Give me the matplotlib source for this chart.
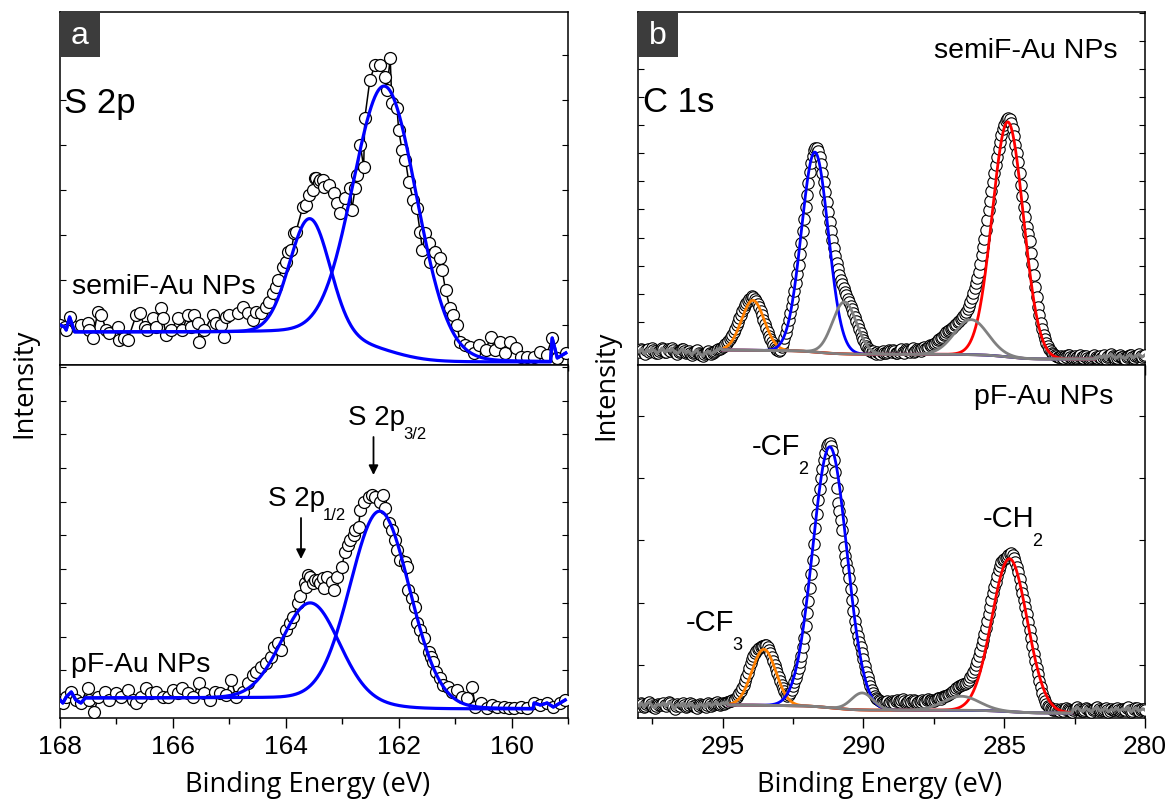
import numpy as np
import matplotlib
matplotlib.use("Agg")
import matplotlib.pyplot as plt
from matplotlib.ticker import MultipleLocator, NullFormatter
from matplotlib.patches import Rectangle

plt.rcParams['font.family'] = ['Liberation Sans', 'DejaVu Sans']

# ---------------- S 2p, semiF-Au NPs : binding energy (eV) / intensity (a.u.)
s2p_semiF_be = [168.00, 167.92, 167.89, 167.83, 167.63, 167.51, 167.48, 167.42, 167.33, 167.27,
                167.18, 167.13, 166.98, 166.95, 166.86, 166.80, 166.65, 166.59, 166.50, 166.45,
                166.36, 166.30, 166.21, 166.18, 166.12, 166.03, 165.91, 165.83, 165.74, 165.68,
                165.62, 165.56, 165.53, 165.44, 165.29, 165.23, 165.15, 165.09, 165.06, 165.00,
                164.85, 164.76, 164.67, 164.58, 164.52, 164.44, 164.35, 164.29, 164.23, 164.17,
                164.14, 164.05, 163.99, 163.96, 163.90, 163.85, 163.82, 163.70, 163.64, 163.58,
                163.52, 163.48, 163.46, 163.42, 163.40, 163.34, 163.33, 163.24, 163.15, 163.09,
                163.04, 162.95, 162.86, 162.83, 162.77, 162.74, 162.68, 162.62, 162.60, 162.51,
                162.42, 162.33, 162.24, 162.21, 162.15, 162.12, 162.03, 162.00, 161.94, 161.88,
                161.82, 161.74, 161.68, 161.62, 161.58, 161.53, 161.47, 161.44, 161.35, 161.26,
                161.23, 161.17, 161.09, 161.03, 160.97, 160.91, 160.82, 160.73, 160.67, 160.58,
                160.46, 160.37, 160.29, 160.20, 160.11, 160.02, 159.93, 159.84, 159.72, 159.60,
                159.49, 159.38, 159.28, 159.19, 159.04]
s2p_semiF_int = [40, 38, 35, 48, 40, 42, 35, 27, 53, 50,
                 35, 32, 38, 25, 27, 25, 50, 52, 38, 35,
                 47, 38, 57, 47, 30, 35, 47, 35, 50, 38,
                 50, 42, 23, 35, 50, 42, 40, 28, 48, 50,
                 52, 58, 52, 45, 53, 52, 58, 63, 72, 78,
                 85, 98, 103, 113, 115, 132, 133, 158, 160, 170,
                 175, 187, 187, 183, 185, 185, 178, 180, 172, 162,
                 152, 167, 177, 155, 177, 190, 220, 198, 247, 285,
                 300, 300, 288, 275, 307, 262, 257, 235, 215, 205,
                 183, 165, 157, 133, 115, 132, 122, 103, 113, 107,
                 95, 75, 57, 50, 40, 23, 20, 18, 12, 20,
                 15, 28, 15, 23, 12, 23, 17, 8, 8, 8,
                 13, 10, 27, 7, 12]

# ---------------- S 2p, pF-Au NPs
s2p_pF_be = [168.00, 167.95, 167.89, 167.80, 167.72, 167.63, 167.51, 167.48, 167.39, 167.33,
             167.21, 167.13, 167.01, 166.92, 166.80, 166.71, 166.65, 166.56, 166.48, 166.39,
             166.30, 166.18, 166.09, 166.00, 165.91, 165.83, 165.74, 165.65, 165.53, 165.44,
             165.35, 165.26, 165.17, 165.06, 164.97, 164.88, 164.76, 164.67, 164.58, 164.52,
             164.44, 164.35, 164.26, 164.20, 164.14, 164.08, 163.99, 163.93, 163.87, 163.79,
             163.74, 163.66, 163.64, 163.61, 163.57, 163.52, 163.48, 163.43, 163.39, 163.34,
             163.33, 163.27, 163.18, 163.15, 163.09, 163.01, 162.95, 162.89, 162.86, 162.80,
             162.77, 162.71, 162.68, 162.62, 162.53, 162.47, 162.42, 162.33, 162.27, 162.24,
             162.18, 162.12, 162.06, 162.03, 161.97, 161.89, 161.86, 161.83, 161.77, 161.71,
             161.68, 161.62, 161.56, 161.47, 161.42, 161.39, 161.33, 161.27, 161.21, 161.12,
             161.06, 160.97, 160.88, 160.79, 160.70, 160.64, 160.55, 160.43, 160.35, 160.26,
             160.14, 160.05, 159.96, 159.84, 159.72, 159.60, 159.49, 159.37, 159.26, 159.14,
             159.05]
s2p_pF_int = [18, 15, 21, 26, 18, 15, 30, 18, 6, 21,
              26, 18, 25, 21, 28, 18, 15, 21, 30, 25,
              26, 21, 21, 28, 25, 30, 25, 21, 35, 25,
              18, 26, 25, 23, 38, 21, 26, 35, 43, 46,
              51, 55, 61, 71, 75, 68, 88, 95, 101, 115,
              122, 135, 131, 143, 141, 135, 138, 138, 135, 140,
              130, 141, 136, 128, 141, 151, 166, 173, 178, 183,
              188, 191, 208, 216, 221, 223, 221, 216, 223, 210,
              195, 188, 178, 168, 158, 156, 151, 128, 120, 111,
              95, 88, 80, 66, 61, 56, 46, 40, 33, 31,
              26, 28, 21, 20, 31, 11, 15, 10, 13, 11,
              11, 10, 10, 11, 10, 15, 13, 15, 11, 15,
              18]

# S 2p fit components (p1/2, p3/2): centre (eV), height (a.u.), FWHM (eV)
s2p_semiF_centers = [163.57, 162.24]
s2p_semiF_heights = [117, 264]
s2p_semiF_fwhm = [0.85, 1.33]
s2p_semiF_bg = [33, 3]           # background level high-BE side / low-BE side
s2p_semiF_range = [167.74, 159.31]

s2p_pF_centers = [163.56, 162.33]
s2p_pF_heights = [97, 194]
s2p_pF_fwhm = [1.20, 1.25]
s2p_pF_bg = [20, 9]
s2p_pF_range = [167.55, 159.62]

# ---------------- C 1s, 0.05 eV steps from 298.00 to 280.00 eV (one row = 1 eV)
c1s_be = np.round(np.linspace(298.0, 280.0, 361), 2)
c1s_semiF_int = [
    14, 13, 16, 15, 12, 11, 15, 16, 13, 14, 17, 15, 14, 12, 12, 14, 15, 17, 16, 13,
    13, 16, 15, 14, 17, 15, 13, 12, 11, 13, 14, 16, 16, 14, 12, 13, 14, 12, 10, 12,
    13, 14, 15, 12, 11, 10, 9, 11, 12, 13, 14, 12, 11, 12, 13, 14, 15, 16, 16, 17,
    18, 19, 21, 22, 24, 26, 28, 30, 33, 36, 40, 43, 47, 50, 54, 57, 60, 62, 64, 66,
    67, 69, 68, 66, 64, 61, 58, 54, 50, 45, 41, 37, 33, 29, 26, 23, 20, 18, 16, 15,
    14, 15, 18, 22, 27, 32, 38, 45, 52, 59, 66, 74, 82, 91, 100, 111, 122, 134, 146, 158,
    170, 182, 193, 202, 209, 215, 217, 217, 214, 208, 201, 192, 183, 173, 163, 153, 143, 134, 125, 117,
    109, 102, 96, 90, 85, 81, 77, 73, 70, 66, 63, 59, 56, 52, 48, 44, 40, 36, 32, 28,
    25, 22, 19, 17, 15, 14, 13, 14, 12, 11, 13, 12, 11, 13, 14, 12, 12, 13, 15, 14,
    13, 15, 14, 12, 12, 13, 15, 16, 13, 12, 16, 15, 14, 13, 15, 17, 13, 14, 16, 15,
    15, 14, 17, 18, 16, 17, 18, 20, 19, 20, 21, 22, 23, 25, 26, 27, 28, 30, 31, 33,
    34, 35, 36, 37, 38, 40, 41, 43, 44, 46, 47, 49, 51, 53, 56, 59, 63, 67, 72, 77,
    82, 87, 93, 101, 110, 118, 126, 135, 145, 155, 164, 174, 183, 192, 200, 208, 216, 223, 230, 236,
    240, 244, 246, 247, 246, 242, 236, 229, 220, 212, 203, 192, 180, 169, 158, 148, 138, 131, 124, 112,
    101, 90, 78, 68, 58, 50, 42, 36, 30, 26, 22, 19, 16, 14, 12, 11, 10, 9, 8, 8,
    9, 8, 7, 9, 8, 10, 10, 8, 7, 8, 9, 7, 8, 9, 10, 8, 7, 9, 9, 7,
    6, 7, 8, 9, 10, 8, 7, 8, 9, 7, 8, 10, 6, 8, 9, 10, 11, 9, 8, 7,
    7, 9, 10, 8, 8, 7, 6, 8, 9, 10, 10, 8, 7, 9, 9, 10, 11, 9, 8, 9,
    10]
c1s_pF_int = [
    13, 12, 15, 14, 11, 12, 14, 15, 16, 14, 12, 11, 10, 12, 14, 13, 13, 14, 15, 13,
    12, 14, 16, 15, 13, 11, 9, 12, 14, 13, 12, 14, 15, 13, 11, 12, 13, 15, 14, 12,
    12, 11, 10, 12, 14, 13, 13, 12, 11, 13, 15, 14, 12, 13, 14, 15, 16, 14, 13, 14,
    15, 14, 15, 16, 16, 17, 17, 18, 18, 19, 21, 23, 25, 27, 30, 33, 37, 41, 45, 50,
    55, 59, 62, 65, 67, 69, 70, 71, 72, 72, 73, 73, 71, 68, 65, 61, 57, 53, 49, 45,
    41, 37, 33, 30, 27, 24, 22, 23, 25, 28, 32, 36, 40, 45, 50, 56, 62, 71, 80, 92,
    105, 117, 130, 144, 158, 174, 190, 204, 218, 229, 240, 249, 258, 265, 272, 274, 275, 272, 267, 258,
    246, 230, 215, 207, 198, 188, 171, 162, 155, 148, 140, 129, 118, 107, 97, 89, 82, 76, 71, 65,
    59, 52, 46, 41, 36, 32, 28, 25, 22, 20, 19, 18, 17, 16, 16, 15, 16, 17, 15, 16,
    17, 16, 15, 17, 18, 17, 16, 18, 19, 17, 15, 16, 17, 18, 16, 17, 18, 17, 15, 16,
    17, 16, 18, 17, 16, 18, 19, 18, 18, 17, 17, 18, 19, 20, 20, 19, 21, 22, 22, 22,
    23, 24, 25, 26, 27, 28, 30, 31, 32, 33, 33, 34, 34, 35, 36, 38, 41, 43, 46, 49,
    53, 57, 62, 67, 73, 78, 84, 90, 97, 104, 111, 118, 125, 131, 136, 142, 148, 152, 156, 158,
    159, 160, 161, 163, 164, 165, 163, 160, 156, 151, 146, 139, 131, 125, 118, 111, 104, 96, 88, 80,
    72, 64, 57, 50, 44, 37, 31, 25, 20, 17, 14, 12, 11, 10, 9, 8, 8, 9, 8, 7,
    9, 8, 7, 9, 10, 9, 8, 7, 6, 8, 9, 10, 11, 9, 8, 7, 7, 8, 10, 9,
    8, 7, 6, 8, 9, 10, 11, 9, 7, 8, 8, 9, 10, 8, 6, 7, 9, 8, 8, 9,
    10, 8, 7, 8, 9, 9, 8, 10, 11, 8, 6, 7, 9, 10, 10, 8, 7, 8, 9, 9,
    8]

# C 1s components: -CF3 (orange), -CF2 (blue), -CH2 (red), two grey components
c1s_names = ['CF3', 'CF2', 'CH2', 'grey1', 'grey2']
c1s_colors = ['#ff8000', '#0000ff', '#ff0000', '#808080', '#808080']
c1s_semiF_centers = [293.92, 291.72, 284.87, 290.67, 286.17]
c1s_semiF_heights = [50, 200, 235, 52, 35]
c1s_semiF_fwhm = [0.95, 1.12, 1.30, 1.00, 1.40]
c1s_semiF_bg = [15, 6]
c1s_semiF_range = [295.0, 281.8]

c1s_pF_centers = [293.53, 291.19, 284.81, 290.04, 286.52]
c1s_pF_heights = [56, 261, 153, 17, 14]
c1s_pF_fwhm = [1.00, 1.43, 1.48, 0.90, 1.50]
c1s_pF_bg = [13, 5]
c1s_pF_range = [294.8, 282.6]


def peak(x, c, h, w, mix=0.05):
    u = (x - c) / w
    return h * (mix / (1 + 4 * u ** 2) + (1 - mix) * np.exp(-4 * np.log(2) * u ** 2))


def fit_curves(be, inten, centers, heights, fwhm, bg, rng, mix):
    hi, lo = rng
    xg = np.linspace(hi, lo, 800)
    comps = [peak(xg, c, h, w, mix) for c, h, w in zip(centers, heights, fwhm)]
    total = np.sum(comps, axis=0)
    cum = np.cumsum(total[::-1])[::-1]
    back = bg[1] + (bg[0] - bg[1]) * cum / cum[0]
    be = np.asarray(be, float)
    inten = np.asarray(inten, float)
    left = be > hi
    right = be < lo
    return xg, back, comps, (be[left], inten[left]), (be[right], inten[right])


W, H = 1172, 805
fig = plt.figure(figsize=(W / 100, H / 100), dpi=100)


def axes_px(x0, x1, y0, y1):
    return fig.add_axes([x0 / W, 1 - y1 / H, (x1 - x0) / W, (y1 - y0) / H])


LX0, LX1 = 60, 568
RX0, RX1 = 638, 1145
YT, YM, YB = 12, 365, 718

ax_tl = axes_px(LX0, LX1, YT, YM)
ax_bl = axes_px(LX0, LX1, YM, YB)
ax_tr = axes_px(RX0, RX1, YT, YM)
ax_br = axes_px(RX0, RX1, YM, YB)

MS = 8.6
for ax, be, inten in [(ax_tl, s2p_semiF_be, s2p_semiF_int), (ax_bl, s2p_pF_be, s2p_pF_int)]:
    ax.plot(be, inten, '-', color='black', lw=1.1, zorder=2)
    ax.plot(be, inten, 'o', ms=MS, mfc='white', mec='black', mew=0.9, zorder=3)

for ax, be, inten, cen, hei, fw, bg, rng in [
        (ax_tl, s2p_semiF_be, s2p_semiF_int, s2p_semiF_centers, s2p_semiF_heights,
         s2p_semiF_fwhm, s2p_semiF_bg, s2p_semiF_range),
        (ax_bl, s2p_pF_be, s2p_pF_int, s2p_pF_centers, s2p_pF_heights,
         s2p_pF_fwhm, s2p_pF_bg, s2p_pF_range)]:
    xg, back, comps, (lx, ly), (rx, ry) = fit_curves(be, inten, cen, hei, fw, bg, rng, 0.05)
    for comp in comps:
        xs = np.concatenate([lx, xg, rx])
        ys = np.concatenate([ly, back + comp, ry])
        ax.plot(xs, ys, color='#0000ff', lw=2.3, zorder=4)

for ax, inten, cen, hei, fw, bg, rng in [
        (ax_tr, c1s_semiF_int, c1s_semiF_centers, c1s_semiF_heights, c1s_semiF_fwhm,
         c1s_semiF_bg, c1s_semiF_range),
        (ax_br, c1s_pF_int, c1s_pF_centers, c1s_pF_heights, c1s_pF_fwhm,
         c1s_pF_bg, c1s_pF_range)]:
    ax.plot(c1s_be, inten, 'o', ms=8.2, mfc='white', mec='black', mew=0.8, zorder=3)
    xg, back, comps, (lx, ly), (rx, ry) = fit_curves(c1s_be, inten, cen, hei, fw, bg, rng, 0.0)
    for name, col, comp in zip(c1s_names, c1s_colors, comps):
        grey = name.startswith('grey')
        if grey:
            xs = np.concatenate([lx, xg, rx])
            ys = np.concatenate([ly, back + comp, ry])
        else:
            xs, ys = xg, back + comp
        ax.plot(xs, ys, color=col, lw=2.0, zorder=5 if grey else 4)

# ---- axes styling
for ax in (ax_tl, ax_bl):
    ax.set_xlim(168, 159)
    ax.xaxis.set_major_locator(MultipleLocator(2))
    ax.xaxis.set_minor_locator(MultipleLocator(1))
for ax in (ax_tr, ax_br):
    ax.set_xlim(298, 280)
    ax.xaxis.set_major_locator(MultipleLocator(5))
    ax.xaxis.set_minor_locator(MultipleLocator(2.5))
for ax in (ax_tl, ax_bl, ax_tr, ax_br):
    ax.set_ylim(0, 353)
    ax.yaxis.set_major_formatter(NullFormatter())
    ax.tick_params(axis='y', which='both', direction='in', left=True, right=True,
                   length=4, width=0.8)
    ax.tick_params(axis='x', which='both', direction='out', width=1.0, top=False)
    ax.tick_params(axis='x', which='major', length=7)
    ax.tick_params(axis='x', which='minor', length=4)
    for s in ax.spines.values():
        s.set_linewidth(1.1)
ax_tl.yaxis.set_major_locator(MultipleLocator(45, offset=40))
ax_bl.yaxis.set_major_locator(MultipleLocator(33.7, offset=14))
ax_tr.yaxis.set_major_locator(MultipleLocator(28.1, offset=15))
ax_br.yaxis.set_major_locator(MultipleLocator(62.3, offset=53))
for ax in (ax_tl, ax_tr):
    ax.tick_params(axis='x', which='both', labelbottom=False)
for ax in (ax_bl, ax_br):
    ax.tick_params(axis='x', which='major', labelsize=19, pad=5)

# ---- panel letters
for ax, letter in [(ax_tl, 'a'), (ax_tr, 'b')]:
    bw = 40 / (ax.bbox.width)
    bh = 45 / 353
    ax.add_patch(Rectangle((0, 1 - bh), bw, bh, transform=ax.transAxes,
                           facecolor='#3c3c3c', edgecolor='none', zorder=6, clip_on=False))
    ax.text(bw / 2, 1 - bh / 2 - 0.005, letter, transform=ax.transAxes, color='white',
            fontsize=23, ha='center', va='center', zorder=7)


def fx(px, x0):
    return (px - x0) / 508


def fy(py, ybot):
    return (ybot - py) / 353


def sub_label(ax, x, y, main, sub, size=20, subsize=12, dy=-9):
    t = ax.text(x, y, main, transform=ax.transAxes, fontsize=size, ha='left', va='baseline')
    ax.annotate(sub, xy=(1, 0), xycoords=t, xytext=(-1.5, dy), textcoords='offset points',
                fontsize=subsize, ha='left', va='baseline')


ax_tl.text(fx(64, LX0), fy(113, YM), 'S 2p', transform=ax_tl.transAxes, fontsize=25,
           va='baseline')
ax_tl.text(fx(72, LX0), fy(294, YM), 'semiF-Au NPs', transform=ax_tl.transAxes,
           fontsize=20.5, va='baseline')
ax_bl.text(fx(71, LX0), fy(672, YB), 'pF-Au NPs', transform=ax_bl.transAxes,
           fontsize=20.5, va='baseline')
sub_label(ax_bl, fx(268, LX0), fy(506, YB), 'S 2p', '1/2', size=20, subsize=12, dy=-6)
sub_label(ax_bl, fx(348, LX0), fy(425, YB), 'S 2p', '3/2', size=20, subsize=12, dy=-6)
for xa, ytail, ytip in [(301, 518, 559), (373.5, 437, 475)]:
    ax_bl.annotate('', xy=(fx(xa, LX0), fy(ytip, YB)), xytext=(fx(xa, LX0), fy(ytail, YB)),
                   xycoords='axes fraction', textcoords='axes fraction',
                   arrowprops=dict(arrowstyle='-|>', color='black', lw=1.3,
                                   mutation_scale=14, shrinkA=0, shrinkB=0))

ax_tr.text(fx(643, RX0), fy(112, YM), 'C 1s', transform=ax_tr.transAxes, fontsize=25,
           va='baseline')
ax_tr.text(fx(1118, RX0), fy(58, YM), 'semiF-Au NPs', transform=ax_tr.transAxes,
           fontsize=20.5, va='baseline', ha='right')
ax_br.text(fx(1114, RX0), fy(404, YB), 'pF-Au NPs', transform=ax_br.transAxes,
           fontsize=20.5, va='baseline', ha='right')
sub_label(ax_br, fx(752, RX0), fy(455, YB), '-CF', '2', size=21, subsize=13, dy=-9)
sub_label(ax_br, fx(686, RX0), fy(631, YB), '-CF', '3', size=21, subsize=13, dy=-9)
sub_label(ax_br, fx(983, RX0), fy(527, YB), '-CH', '2', size=21, subsize=13, dy=-9)

# ---- axis titles
lab_font = ['Open Sans', 'DejaVu Sans']
fig.text(308 / W, 1 - 785 / H, 'Binding Energy (eV)', ha='center', va='center',
         fontsize=19.6, family=lab_font)
fig.text(880 / W, 1 - 785 / H, 'Binding Energy (eV)', ha='center', va='center',
         fontsize=19.6, family=lab_font)
fig.text(24 / W, 1 - 383 / H, 'Intensity', ha='center', va='center', rotation=90,
         fontsize=19.6, family=lab_font)
fig.text(606 / W, 1 - 385 / H, 'Intensity', ha='center', va='center', rotation=90,
         fontsize=19.6, family=lab_font)

fig.savefig('out.png', dpi=100)
